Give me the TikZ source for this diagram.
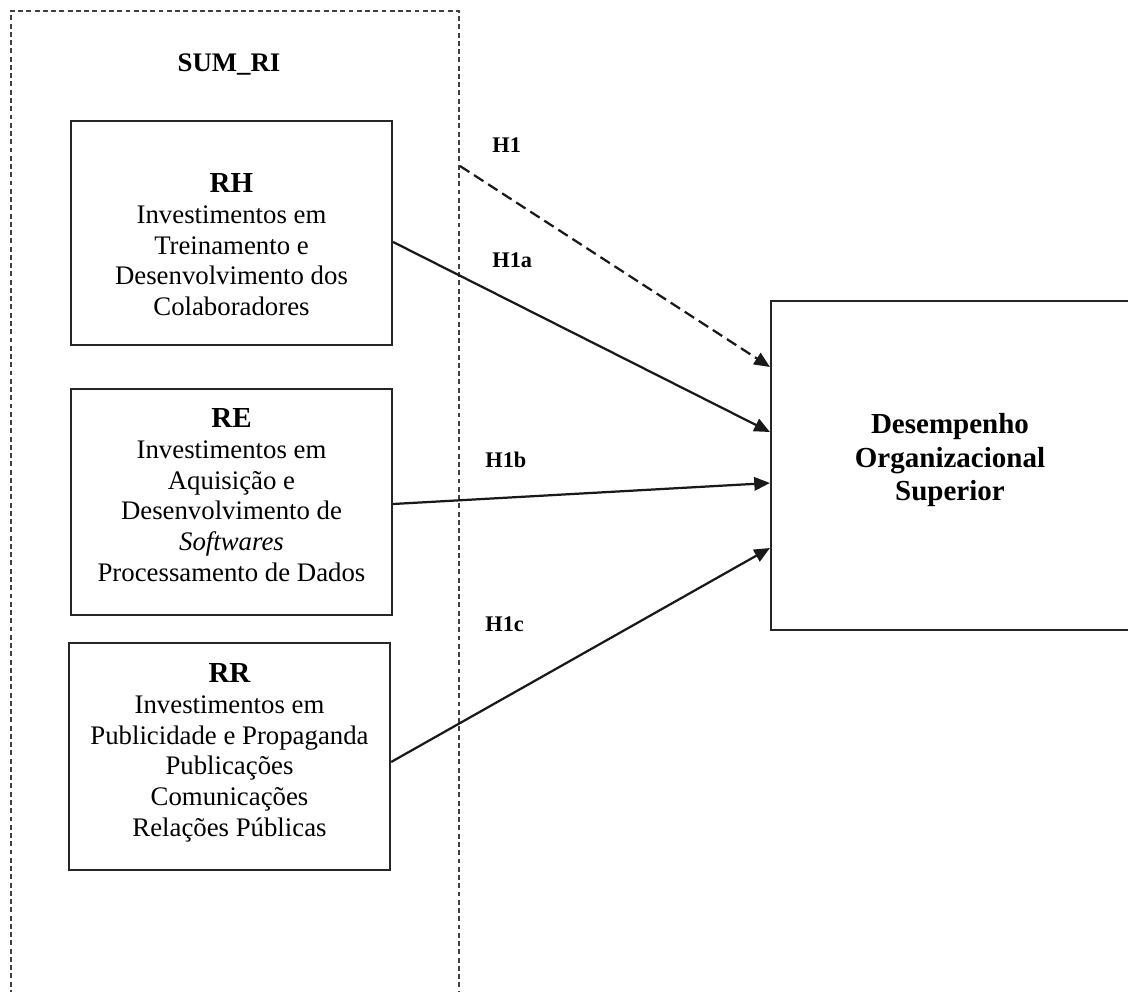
\documentclass[tikz,border=0pt]{standalone}
\usepackage{fontspec}
\setmainfont{Liberation Serif}
\usetikzlibrary{calc, arrows.meta}

\begin{document}
\begin{tikzpicture}[x=0.448pt, y=-0.448pt,
    caixa/.style={draw=black!85, line width=1pt, inner sep=0pt},
    texto/.style={align=center, inner sep=0pt, font=\fontsize{12}{13.8}\selectfont},
    rotulo/.style={inner sep=0pt, font=\fontsize{10}{12}\selectfont\bfseries},
    seta/.style={line width=1pt, draw=black!90, -{Triangle[length=7pt, width=6pt]}}]

    \useasboundingbox (0,0) rectangle (1128,992);
    \clip (0,0) rectangle (1128,992);

    \node[draw=black!75, dash pattern=on 2.2pt off 1.5pt, line width=0.9pt, minimum width=200.7pt, minimum height=447.6pt] (grupo) at (235,510.5) {};
    \node[anchor=base, inner sep=0pt, font=\fontsize{12}{14}\selectfont\bfseries] (sumri) at (229,72) {SUM\_RI};

    \node[caixa, minimum width=143.8pt, minimum height=100.4pt] (rh) at (231.5,233) {};
    \node[texto, anchor=north] (rhtxt) at (231.5,173) {{\fontsize{13}{13.8}\selectfont\bfseries RH}\\Investimentos em\\Treinamento e\\Desenvolvimento dos\\Colaboradores};

    \node[caixa, minimum width=143.8pt, minimum height=101.2pt] (re) at (231.5,502) {};
    \node[texto, anchor=north] (retxt) at (231.5,408) {{\fontsize{13}{13.8}\selectfont\bfseries RE}\\Investimentos em\\Aquisição e\\Desenvolvimento de\\\textit{Softwares}\\Processamento de Dados};

    \node[caixa, minimum width=143.8pt, minimum height=101.7pt] (rr) at (229.5,756.5) {};
    \node[texto, anchor=north] (rrtxt) at (229.5,663) {{\fontsize{13}{13.8}\selectfont\bfseries RR}\\Investimentos em\\Publicidade e Propaganda\\Publicações\\Comunicações\\Relações Públicas};

    \node[caixa, minimum width=160.8pt, minimum height=147.4pt] (dos) at (950.5,465.5) {};
    \node[texto, anchor=north, font=\fontsize{13}{15}\selectfont\bfseries] (dostxt) at (950,413) {Desempenho\\Organizacional\\Superior};

    \node[rotulo, anchor=base west] (h1) at (492,153) {H1};
    \node[rotulo, anchor=base west] (h1a) at (492,268) {H1a};
    \node[rotulo, anchor=base west] (h1b) at (485,467) {H1b};
    \node[rotulo, anchor=base west] (h1c) at (485,631) {H1c};

    \draw[seta, dash pattern=on 5pt off 2.5pt] (grupo.east |- 0,166) -- (dos.west |- 0,367);
    \draw[seta] (rh.east |- 0,242) -- (dos.west |- 0,432);
    \draw[seta] (re.east |- 0,504) -- (dos.west |- 0,483);
    \draw[seta] (rr.east |- 0,762) -- (dos.west |- 0,548);
\end{tikzpicture}
\end{document}
